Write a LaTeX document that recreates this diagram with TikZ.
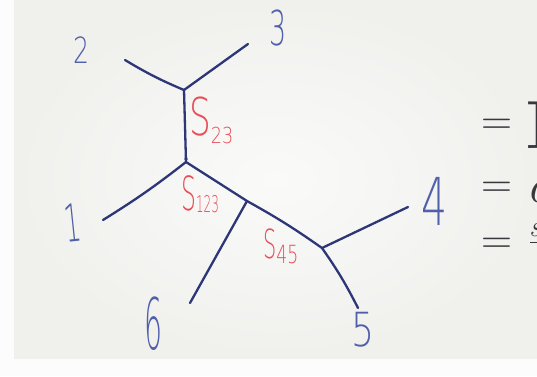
\documentclass[tikz,border=0pt]{standalone}
\usepackage{fontspec}
\newfontfamily\handfont{DejaVu Sans ExtraLight}
\newcommand{\handtxt}[3]{\scalebox{#2}[1]{\fontsize{#1}{#1}\selectfont\handfont #3}}
\definecolor{ink}{RGB}{45,55,120}
\definecolor{digit}{RGB}{80,95,170}
\definecolor{redink}{RGB}{232,78,88}
\definecolor{slide}{RGB}{55,55,60}
\begin{document}
\begin{tikzpicture}[x=1pt,y=-1pt,
  edge/.style={draw=ink,line width=2.3pt,line cap=round,line join=round},
  num/.style={text=digit,inner sep=0pt,anchor=center},
  lab/.style={text=redink,inner sep=0pt,anchor=base west},
  eqs/.style={text=slide,inner sep=0pt,anchor=base west}]
% background
\useasboundingbox (0,0) rectangle (537,376);
\fill[white!98!gray] (0,0) rectangle (537,376);
\shade[inner color={rgb,255:red,250;green,250;blue,249},outer color={rgb,255:red,240;green,240;blue,237}] (14,0) rectangle (537,358);
% tree vertices
\coordinate (A) at (184,90);
\coordinate (B) at (186,162);
\coordinate (C) at (247,201);
\coordinate (D) at (322,248);
\coordinate (l2) at (125,60);
\coordinate (l3) at (248,44);
\coordinate (l1) at (103,220);
\coordinate (l6) at (190,303);
\coordinate (l4) at (408,207);
\coordinate (l5) at (358,308);
% edges
\draw[edge] (l2) to[bend right=4] (A);
\draw[edge] (l3) -- (A);
\draw[edge] (A) -- (B);
\draw[edge] (B) to[bend left=3] (l1);
\draw[edge] (B) -- (C);
\draw[edge] (C) -- (l6);
\draw[edge] (C) to[bend left=3] (D);
\draw[edge] (D) -- (l4);
\draw[edge] (D) to[bend left=4] (l5);
\fill[ink] (B) ++(0,-3) circle (1.8);
% leaf labels
\node[num] (n2) at (82,50) {\handtxt{36}{0.7}{2}};
\node[num] (n3) at (278,28) {\handtxt{48}{0.56}{3}};
\node[num,rotate=6] (n1) at (73,223) {\handtxt{52}{0.5}{1}};
\node[num] (n6) at (154,324) {\handtxt{71}{0.4}{6}};
\node[num] (n4) at (435,201) {\handtxt{66}{0.62}{4}};
\node[num] (n5) at (363,330) {\handtxt{47}{0.77}{5}};
% edge labels
\node[lab] (s23) at (189,135) {\handtxt{52}{0.66}{S}\raisebox{-8pt}{\handtxt{22}{0.8}{23}}};
\node[lab] (s123) at (181,210) {\handtxt{47}{0.5}{S}\raisebox{-2pt}{\handtxt{23}{0.52}{123}}};
\node[lab] (s45) at (263,258) {\handtxt{40}{0.52}{S}\raisebox{-5pt}{\handtxt{25}{0.69}{45}}};
% slide text on the right (cut off)
\node[eqs] (e1) at (481,134.7) {\fontsize{43}{43}\selectfont =};
\node[eqs] (e2) at (481,197.7) {\fontsize{43}{43}\selectfont =};
\node[eqs] (e3) at (481,253.7) {\fontsize{43}{43}\selectfont =};
\node[eqs] (t1) at (526,148) {\fontsize{68}{68}\selectfont\bfseries I};
\node[eqs] (t2) at (526,202) {\fontsize{50}{50}\selectfont\itshape c};
\node[eqs] (t3) at (529,236) {\fontsize{30}{30}\selectfont\itshape s};
\draw[slide,line width=1.7pt] (530,242.5) -- (545,242.5);
\end{tikzpicture}
\end{document}
